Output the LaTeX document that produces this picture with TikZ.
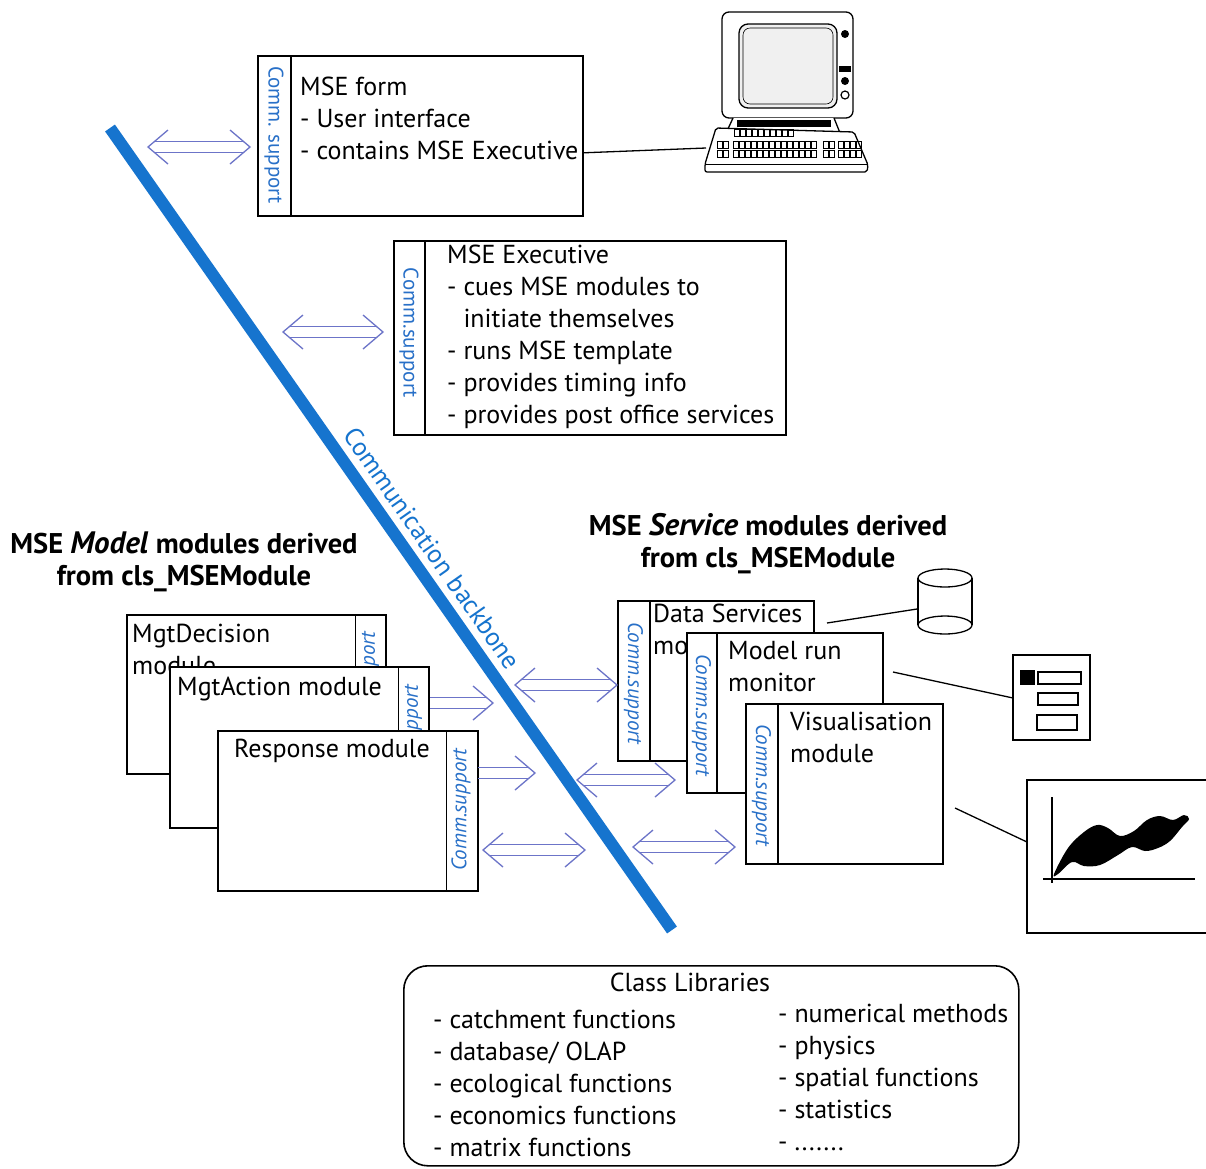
\documentclass[tikz,border=0pt]{standalone}
\usepackage{fontspec}
\setmainfont{PT Sans}
\usetikzlibrary{calc}
\definecolor{bbblue}{RGB}{22,116,206}
\definecolor{commblue}{RGB}{40,112,200}
\definecolor{arrowblue}{RGB}{108,116,200}

\tikzset{
  pics/biarrow/.style={code={
    \draw[arrowline] (6,-5.5) -- (#1-6,-5.5) (6,5.5) -- (#1-6,5.5);
    \draw[arrowline] (20,-17) -- (0,0) -- (20,17);
    \draw[arrowline] (#1-20,-17) -- (#1,0) -- (#1-20,17);
  }},
  pics/rarrow/.style={code={
    \draw[arrowline] (0,-5.5) -- (#1-6,-5.5) (0,5.5) -- (#1-6,5.5);
    \draw[arrowline] (#1-20,-17) -- (#1,0) -- (#1-20,17);
  }}
}

\begin{document}
\begin{tikzpicture}[x=1pt,y=-1pt,
  modbox/.style={draw=black, line width=1.6pt, fill=white, anchor=north west, inner sep=0pt},
  divider/.style={line width=1.6pt},
  body/.style={anchor=north west, inner sep=0pt, align=left, font=\fontsize{26}{32}\selectfont},
  headtext/.style={anchor=north, inner sep=0pt, align=center, font=\fontsize{28.5}{32}\selectfont\bfseries},
  strip/.style={text=commblue, inner sep=0pt, font=\fontsize{21}{24}\selectfont},
  stripit/.style={strip, font=\fontsize{21}{24}\selectfont\itshape},
  arrowline/.style={draw=arrowblue, line width=1.3pt, line join=miter},
  backbone/.style={draw=bbblue, line width=12pt},
  link/.style={line width=1.3pt},
  icon/.style={line width=1.3pt}
]
\clip (0,0) rectangle (1206,1168);
\fill[white] (0,0) rectangle (1206,1168);

% communication backbone
\coordinate (bbtop) at (110,128);
\coordinate (bbbot) at (672,930);
\draw[backbone] (bbtop) -- node[pos=0.54, sloped, above=4pt, text=bbblue,
  font=\fontsize{26}{30}\selectfont] (bblabel) {Communication backbone} (bbbot);

% MSE form
\node[modbox, minimum width=325, minimum height=160] (form) at (257,55) {};
\draw[divider] ([xshift=34pt]form.north west) -- ([xshift=34pt]form.south west);
\node[strip, rotate=-90] (formcs) at (274,135) {Comm. support};
\node[body] (formtxt) at (300,72.6) {\strut MSE form\\- User interface\\- contains MSE Executive};

% MSE Executive
\node[modbox, minimum width=392, minimum height=194] (exec) at (393,240) {};
\draw[divider] ([xshift=32pt]exec.north west) -- ([xshift=32pt]exec.south west);
\node[strip, rotate=-90] (execcs) at (409,333) {Comm.support};
\node[body] (exectxt) at (447,240.6) {\strut MSE Executive\\- cues MSE modules to\\\phantom{- }initiate themselves\\- runs MSE template\\- provides timing info\\- provides post office services};

% headings
\node[headtext] (modelhead) at (184,530.6) {\strut MSE \textit{\fontsize{31}{32}\selectfont Model} modules derived\\from cls\_MSEModule};
\node[headtext] (servicehead) at (768,512.6) {\strut MSE \textit{\fontsize{31}{32}\selectfont Service} modules derived\\from cls\_MSEModule};

% model modules (stacked)
\node[modbox, minimum width=259, minimum height=159] (mgtdec) at (126,614) {};
\draw[divider] ([xshift=-31pt]mgtdec.north east) -- ([xshift=-31pt]mgtdec.south east);
\node[stripit, rotate=90] (mgtdeccs) at (369.5,693) {Comm.support};
\node[body] (mgtdectxt) at (132,619.6) {\strut MgtDecision\\module};

\node[modbox, minimum width=259, minimum height=161] (mgtact) at (169,666) {};
\draw[divider] ([xshift=-31pt]mgtact.north east) -- ([xshift=-31pt]mgtact.south east);
\node[stripit, rotate=90] (mgtactcs) at (412.5,746) {Comm.support};
\node[body] (mgtacttxt) at (177,672.6) {\strut MgtAction module};

\node[modbox, minimum width=260, minimum height=160] (resp) at (217,730) {};
\draw[divider] ([xshift=-32pt]resp.north east) -- ([xshift=-32pt]resp.south east);
\node[stripit, rotate=90] (respcs) at (461,810) {Comm.support};
\node[body] (resptxt) at (234,734.6) {\strut Response module};

% service modules (stacked)
\node[modbox, minimum width=196, minimum height=160] (data) at (617,600) {};
\draw[divider] ([xshift=33pt]data.north west) -- ([xshift=33pt]data.south west);
\node[stripit, rotate=-90] (datacs) at (633.5,683) {Comm.support};
\node[body] (datatxt) at (653,599.6) {\strut Data Services\\module};

\node[modbox, minimum width=196, minimum height=160] (mrm) at (686,632) {};
\draw[divider] ([xshift=31pt]mrm.north west) -- ([xshift=31pt]mrm.south west);
\node[stripit, rotate=-90] (mrmcs) at (701.5,715) {Comm.support};
\node[body] (mrmtxt) at (728,636.6) {\strut Model run\\monitor};

\node[modbox, minimum width=197, minimum height=160] (vis) at (745,703) {};
\draw[divider] ([xshift=33pt]vis.north west) -- ([xshift=33pt]vis.south west);
\node[stripit, rotate=-90] (viscs) at (761.5,785) {Comm.support};
\node[body] (vistxt) at (790,707.6) {\strut Visualisation\\module};

% message arrows to and from the backbone
\coordinate (a1) at (148,147);
\coordinate (a2) at (283,332);
\coordinate (a3) at (430,703);
\coordinate (a4) at (515,685);
\coordinate (a5) at (478,773);
\coordinate (a6) at (577,780);
\coordinate (a7) at (483,850);
\coordinate (a8) at (633,847);
\pic at (a1) {biarrow=102};
\pic at (a2) {biarrow=100};
\pic at (a3) {rarrow=63};
\pic at (a4) {biarrow=102};
\pic at (a5) {rarrow=57};
\pic at (a6) {biarrow=98};
\pic at (a7) {biarrow=102};
\pic at (a8) {biarrow=102};

% class libraries
\node[draw, line width=1.6pt, rounded corners=24pt, minimum width=615, minimum height=200,
  anchor=north west, inner sep=0pt] (cls) at (403,965) {};
\node[body, anchor=north] (clstitle) at (690,968.6) {\strut Class Libraries};
\node[body] (clsleft) at (433,1005.6) {\strut - catchment functions\\- database/ OLAP\\- ecological functions\\- economics functions\\- matrix functions};
\node[body] (clsright) at (778,999.6) {\strut - numerical methods\\- physics\\- spatial functions\\- statistics\\- .......};

% computer terminal
\coordinate (pcin) at (706,148);
\draw[link] ($(form.east)+(0,17)$) -- (pcin);
\draw[icon, fill=white, rounded corners=7pt] (722,12) rectangle (853,118);
\draw[icon, fill=black!6, rounded corners=9pt] (739,24) rectangle (837,108);
\draw[line width=0.6pt, rounded corners=7pt] (743,28) rectangle (833,104);
\fill (845,34) circle (4pt);
\fill (839,66) rectangle (851,72);
\fill (845,81) circle (4pt);
\draw[line width=1.2pt] (845,95) circle (4pt);
\draw[icon, fill=white] (733,118) -- (727,131) -- (840,133) -- (834,118);
\fill (737,120) rectangle (831,127);
\draw[icon, fill=white, rounded corners=2pt] (716,128) -- (854,132) -- (868,165) -- (867,172) -- (705,172) -- (705,164) -- cycle;
\draw[line width=0.8pt] (706,164) -- (867,164);
\foreach \i in {0,...,9} \draw[line width=0.7pt] (734+6*\i,129) rectangle ++(5,7);
\foreach \r in {141,150} {
  \foreach \i in {0,1} \draw[line width=0.7pt] (717+6*\i,\r) rectangle ++(5,7);
  \foreach \i in {0,...,13} \draw[line width=0.7pt] (733+6*\i,\r) rectangle ++(5,7);
  \foreach \i in {0,...,1} \draw[line width=0.7pt] (823+6*\i,\r) rectangle ++(5,7);
  \foreach \i in {0,...,3} \draw[line width=0.7pt] (838+6*\i,\r) rectangle ++(5,7);
}

% database
\coordinate (dbin) at (917,609);
\draw[link] (827,623) -- (dbin);
\draw[icon] (918,578) -- (918,625) (972,578) -- (972,625);
\draw[icon] (945,578) ellipse [x radius=27pt, y radius=9pt];
\draw[icon] (945,625) ellipse [x radius=27pt, y radius=9pt];

% run monitor panel
\coordinate (panelin) at (1013,698);
\draw[link] (893,672) -- (panelin);
\draw[icon] (1013,655) rectangle (1090,740);
\fill (1020,670) rectangle (1035,685);
\draw[icon] (1038,672) rectangle (1081,684);
\draw[icon] (1038,693) rectangle (1078,705);
\draw[icon] (1037,715) rectangle (1077,730);

% chart
\coordinate (chartin) at (1027,842);
\draw[link] (955,808) -- (chartin);
\draw[icon] (1027,780) rectangle (1215,933);
\draw[icon] (1052,797) -- (1052,883);
\draw[icon] (1043,879) -- (1195,879);
\fill plot[smooth cycle, tension=0.6] coordinates {(1054,874) (1068,848) (1084,832) (1097,825) (1108,828) (1120,836) (1134,831) (1147,820) (1160,816) (1173,820) (1184,815) (1189,819) (1182,827) (1170,841) (1158,848) (1145,851) (1132,847) (1118,855) (1100,865) (1084,866) (1072,862) (1058,874)};
\end{tikzpicture}
\end{document}
